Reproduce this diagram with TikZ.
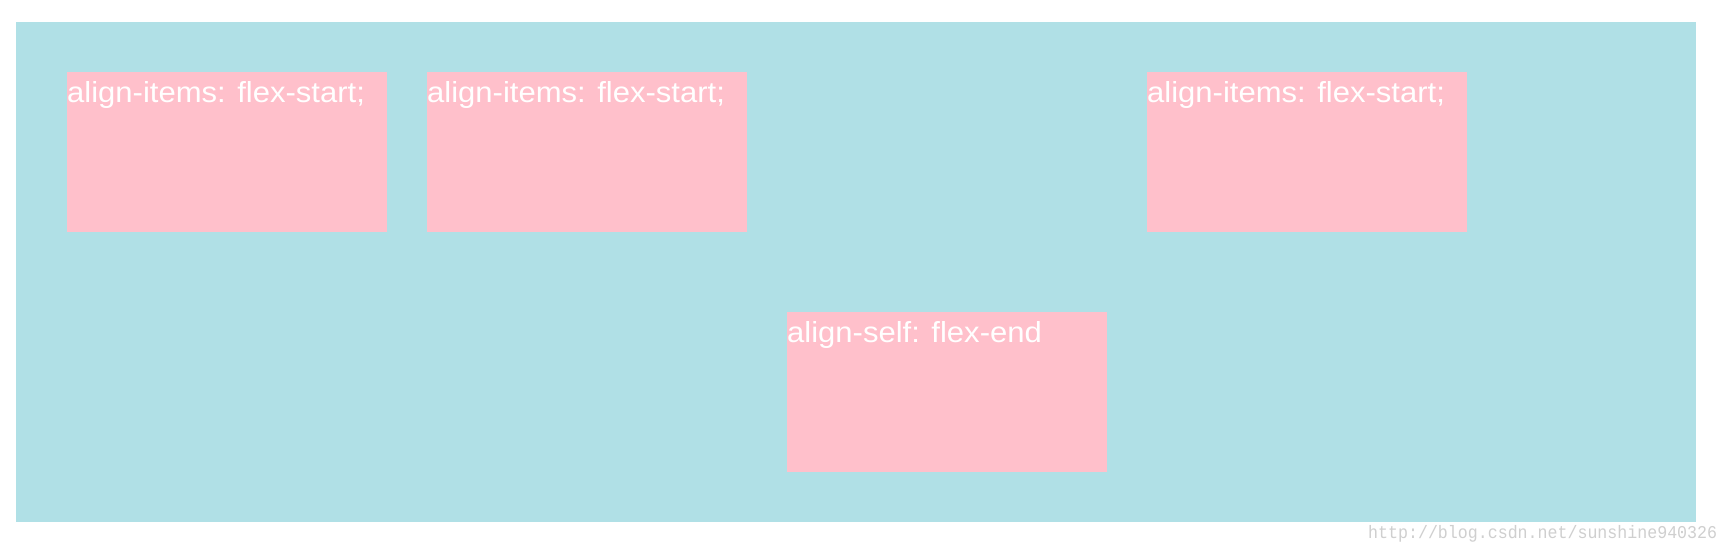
\documentclass[tikz,border=0pt]{standalone}
\usepackage{fontspec}
\newfontfamily\boxfont{Liberation Sans}[FakeStretch=1.07]
\newfontfamily\wmfont{Liberation Mono}[FakeStretch=0.923]
\definecolor{bgblue}{HTML}{B0E0E6}
\definecolor{boxpink}{HTML}{FFC0CB}
\definecolor{wmgray}{HTML}{CFCFCF}
\begin{document}
\begin{tikzpicture}[x=1pt,y=-1pt,
  item/.style={fill=boxpink, draw=none, inner sep=0pt, minimum width=320pt, minimum height=160pt, anchor=north west},
  itemtext/.style={text=white, inner sep=0pt, anchor=base west, font=\boxfont\fontsize{29}{34}\selectfont},
  wm/.style={text=wmgray, inner sep=0pt, anchor=base west, font=\wmfont\fontsize{18}{20}\selectfont}]
\useasboundingbox (0,0) rectangle (1730,550);
\fill[white] (0,0) rectangle (1730,550);
\node[fill=bgblue, inner sep=0pt, minimum width=1680pt, minimum height=500pt, anchor=north west] (container) at (16,22) {};
\node[item] (b1) at (67,72) {};
\node[item] (b2) at (427,72) {};
\node[item] (b4) at (787,312) {};
\node[item] (b3) at (1147,72) {};
\node[itemtext] (t1) at ([yshift=-30.7pt]b1.north west) {align-items: flex-start;};
\node[itemtext] (t2) at ([yshift=-30.7pt]b2.north west) {align-items: flex-start;};
\node[itemtext] (t3) at ([yshift=-30.7pt]b3.north west) {align-items: flex-start;};
\node[itemtext] (t4) at ([yshift=-30.7pt]b4.north west) {align-self: flex-end};
\node[wm] (wmark) at (1368,538.5) {http://blog.csdn.net/sunshine940326};
\end{tikzpicture}
\end{document}
